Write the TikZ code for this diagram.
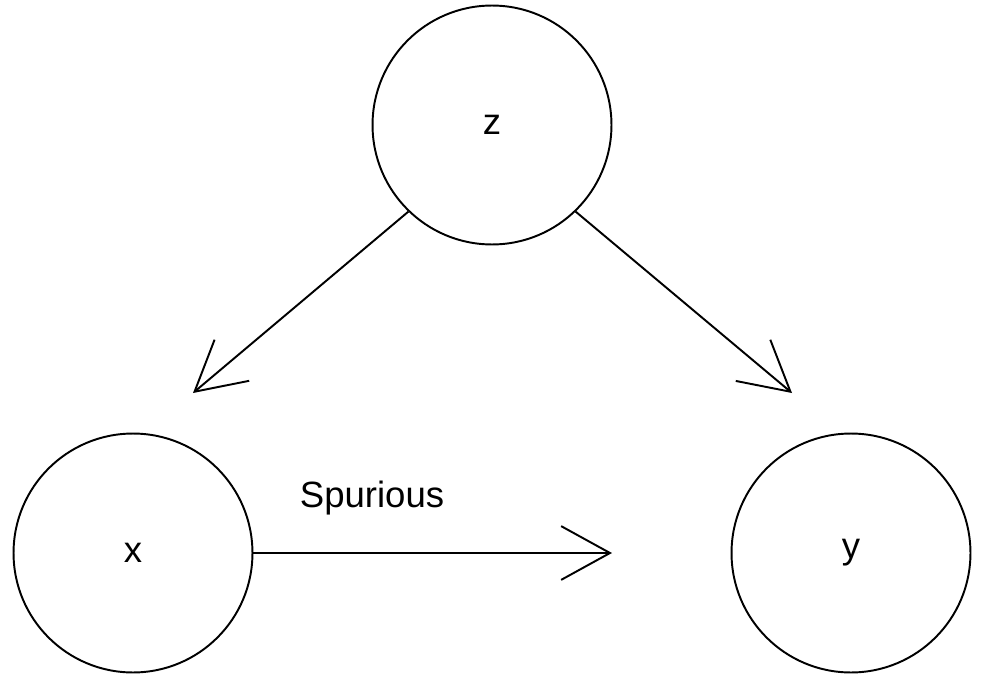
\documentclass[tikz,border=0pt]{standalone}
\usepackage{fontspec}
\setmainfont{Liberation Sans}
\usetikzlibrary{arrows.meta}

\begin{document}
\begin{tikzpicture}[x=0.02cm,y=-0.02cm,>={Straight Barb[length=27.8pt,width=30.6pt,line width=1.1pt]}]
    \tikzset{var/.style={draw,circle,line width=1.1pt,minimum size=136pt,inner sep=0pt,font=\fontsize{20.8}{24}\selectfont},
             edge/.style={->,line width=1.1pt}}
    \useasboundingbox (0,0) rectangle (981,679);
    \node[var] (z) at (492,125) {z};
    \node[var] (x) at (133,553) {x};
    \node[var] (y) at (851,553) {y};
    \coordinate (tipx) at (193,393);
    \coordinate (tipy) at (792,393);
    \coordinate (tipxy) at (612,553);
    \draw[edge] (z.226) -- (tipx);
    \draw[edge] (z.314) -- (tipy);
    \draw[edge] (x.east) -- (tipxy);
    \node[font=\fontsize{20.8}{24}\selectfont] (spur) at (372,498) {Spurious};
\end{tikzpicture}
\end{document}
